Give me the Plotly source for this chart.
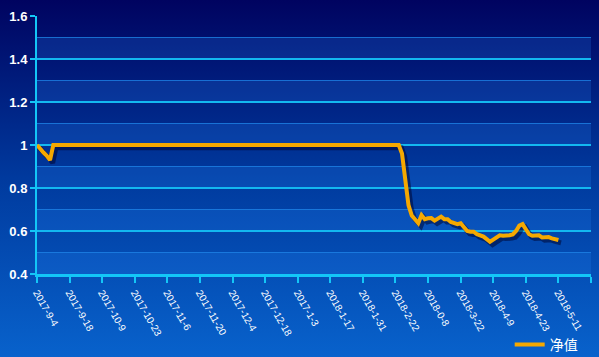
import plotly.graph_objects as go

# ---- data -------------------------------------------------------------
tick_labels = ["2017-9-4", "2017-9-18", "2017-10-9", "2017-10-23", "2017-11-6",
               "2017-11-20", "2017-12-4", "2017-12-18", "2017-1-3", "2018-1-17",
               "2018-1-31", "2018-2-22", "2018-0-8", "2018-3-22", "2018-4-9",
               "2018-4-23", "2018-5-11"]
label_step = 10  # one label every 10 trading days

start_values = [1.0, 0.98, 0.965, 0.95, 0.93]
flat_values = [
    1.0, 1.0, 1.0, 1.0, 1.0, 1.0, 1.0, 1.0, 1.0, 1.0,
    1.0, 1.0, 1.0, 1.0, 1.0, 1.0, 1.0, 1.0, 1.0, 1.0,
    1.0, 1.0, 1.0, 1.0, 1.0, 1.0, 1.0, 1.0, 1.0, 1.0,
    1.0, 1.0, 1.0, 1.0, 1.0, 1.0, 1.0, 1.0, 1.0, 1.0,
    1.0, 1.0, 1.0, 1.0, 1.0, 1.0, 1.0, 1.0, 1.0, 1.0,
    1.0, 1.0, 1.0, 1.0, 1.0, 1.0, 1.0, 1.0, 1.0, 1.0,
    1.0, 1.0, 1.0, 1.0, 1.0, 1.0, 1.0, 1.0, 1.0, 1.0,
    1.0, 1.0, 1.0, 1.0, 1.0, 1.0, 1.0, 1.0, 1.0, 1.0,
    1.0, 1.0, 1.0, 1.0, 1.0, 1.0, 1.0, 1.0, 1.0, 1.0,
    1.0, 1.0, 1.0, 1.0, 1.0, 1.0, 1.0, 1.0, 1.0, 1.0,
    1.0, 1.0, 1.0, 1.0, 1.0, 1.0, 1.0,
]
drop_values = [
    0.96, 0.82, 0.72, 0.672, 0.65, 0.636, 0.674, 0.655, 0.659, 0.66,
    0.648, 0.66, 0.667, 0.655, 0.655, 0.642, 0.635, 0.632, 0.636, 0.618,
    0.60, 0.597, 0.597, 0.585, 0.58, 0.574, 0.562, 0.55, 0.56, 0.572,
    0.58, 0.578, 0.577, 0.58, 0.584, 0.60, 0.625, 0.632, 0.608, 0.585,
    0.578, 0.577, 0.58, 0.57, 0.573, 0.572, 0.566, 0.561, 0.558,
]
nav_values = start_values + flat_values + drop_values
series_name = "净值"

y_min, y_max, y_step = 0.4, 1.6, 0.2

# ---- figure -------------------------------------------------------------
idx = list(range(len(nav_values)))
n_ticks = len(tick_labels) + 1
tickvals = [i * label_step for i in range(n_ticks)]
ticktext = tick_labels + [""]
x_end = tickvals[-1]

W, H = 599, 357
ml, mr, mt, mb = 37, 8, 16, 83
pw, ph = W - ml - mr, H - mt - mb

fig = go.Figure()

# soft shadow under the line
fig.add_trace(go.Scatter(
    x=[v + 0.8 for v in idx], y=[v - 0.013 for v in nav_values],
    mode="lines", line=dict(color="rgba(0,0,40,0.5)", width=5),
    hoverinfo="skip", showlegend=False))

fig.add_trace(go.Scatter(
    x=idx, y=nav_values, name=series_name, mode="lines",
    line=dict(color="#f5a800", width=4)))

# background gradient (svg image)
svg = ("data:image/svg+xml;utf8,<svg xmlns='http://www.w3.org/2000/svg' width='599' height='357' preserveAspectRatio='none'>"
       "<defs><linearGradient id='g' x1='0' y1='0' x2='0' y2='1'>"
       "<stop offset='0' stop-color='%23000360'/>"
       "<stop offset='0.5' stop-color='%23003a9e'/>"
       "<stop offset='1' stop-color='%230862cc'/>"
       "</linearGradient></defs><rect width='599' height='357' fill='url(%23g)'/></svg>")
fig.add_layout_image(dict(
    source=svg, xref="paper", yref="paper",
    x=-ml / pw, y=1 + mt / ph, sizex=W / pw, sizey=H / ph,
    xanchor="left", yanchor="top", sizing="stretch", layer="below"))

# alternating lighter bands
shapes = []
b = y_min
while b < y_max - 1e-9:
    shapes.append(dict(type="rect", xref="paper", yref="y", x0=0, x1=1,
                       y0=b, y1=b + y_step / 2,
                       fillcolor="rgba(40,140,255,0.2)", line=dict(width=0),
                       layer="below"))
    b += y_step
fig.update_layout(shapes=shapes)

fig.update_layout(
    width=W, height=H,
    margin=dict(l=ml, r=mr, t=mt, b=mb, autoexpand=False),
    paper_bgcolor="#0030a0",
    plot_bgcolor="rgba(0,0,0,0)",
    font=dict(family="Liberation Sans, Arial, sans-serif", color="white"),
    showlegend=True,
    legend=dict(x=0.985, xanchor="right", y=-0.275, yanchor="middle",
                bgcolor="rgba(0,0,0,0)",
                font=dict(family="Noto Sans CJK SC", size=14, color="white"),
                itemwidth=30),
    xaxis=dict(
        range=[0, x_end], tickmode="array", tickvals=tickvals, ticktext=ticktext,
        tickangle=60, tickfont=dict(size=10, color="white"), automargin=False,
        showgrid=False, zeroline=False,
        showline=True, linecolor="#13c6f7", linewidth=3,
        ticks="outside", ticklen=6, tickwidth=2, tickcolor="#13c6f7"),
    yaxis=dict(
        range=[y_min, y_max], dtick=y_step, tick0=y_min, automargin=False,
        tickfont=dict(size=13, color="white", weight="bold"),
        showgrid=True, gridcolor="#13b8f0", gridwidth=1.5,
        minor=dict(dtick=y_step / 2, showgrid=True, gridcolor="rgba(30,130,230,0.8)", gridwidth=1),
        zeroline=False,
        showline=True, linecolor="#13c6f7", linewidth=2,
        ticks="outside", ticklen=5, tickwidth=2, tickcolor="#13c6f7"),
)

fig.write_html("out.html", config={"displayModeBar": False},
               post_script="document.body.style.margin='0';document.body.style.overflow='hidden';")
